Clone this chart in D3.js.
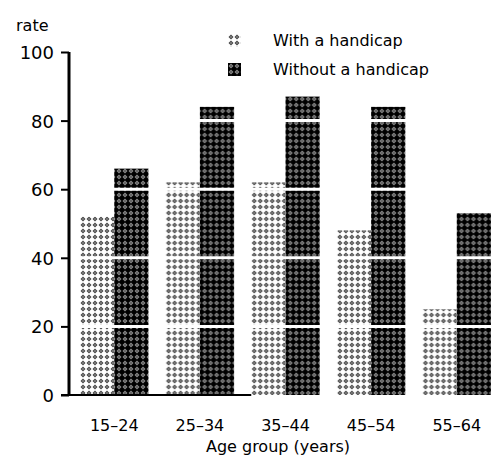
<!DOCTYPE html>
<html>
<head>
<meta charset="utf-8">
<script src="https://cdn.jsdelivr.net/npm/d3@7"></script>
<style>
body{margin:0;background:#fff;}
text{font-family:"DejaVu Sans",Arial,sans-serif;fill:#000;}
</style>
</head>
<body>
<svg id="chart" width="493" height="460"></svg>
<script>
var ageGroups = ["15\u201324","25\u201334","35\u201344","45\u201354","55\u201364"]
var withHandicap = [52,62,62,48,25]
var withoutHandicap = [66,84,87,84,53]
var seriesNames = ["With a handicap","Without a handicap"]
var yTicks = [0,20,40,60,80,100]

var svg = d3.select("#chart")
var x0 = 69, yBottom = 395, yTop = 52

var x = d3.scaleBand().domain(ageGroups).range([80,491]).paddingInner(0.2).paddingOuter(0)
var xs = d3.scaleBand().domain(seriesNames).range([0,x.bandwidth()])
var y = d3.scaleLinear().domain([0,100]).range([yBottom,yTop])

// halftone-ish fills: small diamonds on a 6px grid
var defs = svg.append("defs")
function diamondPattern(id,bg,dot,core){
	var p = defs.append("pattern").attr("id",id).attr("patternUnits","userSpaceOnUse")
		.attr("width",6).attr("height",6)
	p.append("rect").attr("width",6).attr("height",6).attr("fill",bg)
	p.append("path").attr("d","M3,0.5L5.5,3L3,5.5L0.5,3Z").attr("fill",dot)
	p.append("rect").attr("x",2.5).attr("y",2.5).attr("width",1).attr("height",1).attr("fill",core)
}
diamondPattern("light","#fff","#444","#fff")
diamondPattern("dark","#000","#8a8a8a","#000")

var rows = ageGroups.map(function(g,i){
	return [{g:g,s:seriesNames[0],v:withHandicap[i],f:"url(#light)"},
	        {g:g,s:seriesNames[1],v:withoutHandicap[i],f:"url(#dark)"}]
})

svg.append("g").selectAll("g").data(rows).join("g")
	.attr("transform",function(d){return "translate("+x(d[0].g)+",0)"})
	.selectAll("rect").data(function(d){return d}).join("rect")
	.attr("x",function(d){return xs(d.s)})
	.attr("y",function(d){return y(d.v)})
	.attr("width",xs.bandwidth())
	.attr("height",function(d){return y(0)-y(d.v)})
	.attr("fill",function(d){return d.f})

// white gridlines cutting through the bars
svg.append("g").selectAll("line").data(yTicks.slice(1,5)).join("line")
	.attr("x1",x0+2).attr("x2",493)
	.attr("y1",function(d){return y(d)}).attr("y2",function(d){return y(d)})
	.attr("stroke","#fff").attr("stroke-width",3)

// y axis
var yAxis = svg.append("g").attr("transform","translate("+x0+",0)")
	.call(d3.axisLeft(y).tickValues(yTicks).tickSize(8).tickPadding(7))
yAxis.select(".domain").attr("stroke","#000").attr("stroke-width",3)
	.attr("d","M0,"+yTop+"V"+yBottom)
yAxis.selectAll(".tick line").attr("stroke","#000").attr("stroke-width",2)
yAxis.selectAll(".tick text").style("font-size","18px").attr("dy","0.36em")

// baseline
svg.append("line").attr("x1",x0-8).attr("x2",x("35\u201344"))
	.attr("y1",yBottom).attr("y2",yBottom).attr("stroke","#000").attr("stroke-width",2)

// x labels
var xAxis = svg.append("g").attr("transform","translate(0,"+yBottom+")")
	.call(d3.axisBottom(x).tickSize(0).tickPadding(30))
xAxis.select(".domain").remove()
xAxis.selectAll(".tick text").style("font-size","16px").attr("dy","0.35em")

svg.append("text").attr("x",278).attr("y",452).attr("text-anchor","middle")
	.style("font-size","16px").text("Age group (years)")
svg.append("text").attr("x",16).attr("y",31).style("font-size","16px").text("rate")

// legend
var leg = svg.append("g").selectAll("g").data(seriesNames).join("g")
	.attr("transform",function(d,i){return "translate(228,"+(34+i*29)+")"})
leg.append("rect").attr("width",13).attr("height",13)
	.attr("fill",function(d,i){return i==0?"url(#light)":"url(#dark)"})
leg.append("text").attr("x",45).attr("y",12).style("font-size","16px").text(function(d){return d})
</script>
</body>
</html>
